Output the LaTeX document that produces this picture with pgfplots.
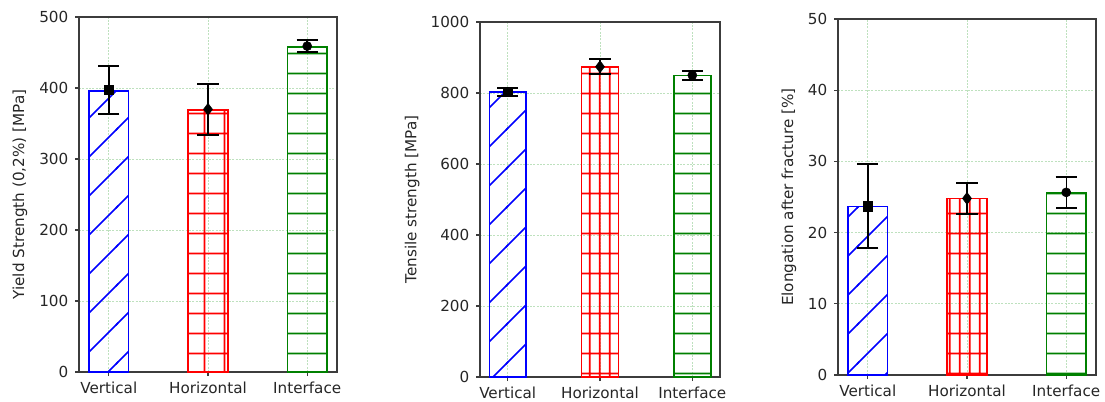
\documentclass[border=0pt]{standalone}
\usepackage{fontspec}
\setmainfont{DejaVu Sans}
\usepackage{pgfplots}
\pgfplotsset{compat=1.18}
\usetikzlibrary{patterns}

\definecolor{cblue}{RGB}{0,0,255}
\definecolor{cred}{RGB}{255,0,0}
\definecolor{cgreen}{RGB}{0,128,0}
\definecolor{gridc}{RGB}{190,225,190}
\definecolor{axc}{RGB}{60,60,60}

% hatch patterns
\pgfdeclarepatternformonly{mydiag}{\pgfpoint{-1pt}{-1pt}}{\pgfpoint{30.25pt}{30.25pt}}{\pgfpoint{29.25pt}{29.25pt}}{
  \pgfsetlinewidth{1.3pt}
  \pgfpathmoveto{\pgfpoint{-1pt}{-1pt}}
  \pgfpathlineto{\pgfpoint{30.25pt}{30.25pt}}
  \pgfusepath{stroke}}
\pgfdeclarepatternformonly{myhlines}{\pgfpoint{0pt}{0pt}}{\pgfpoint{10pt}{14.625pt}}{\pgfpoint{10pt}{14.625pt}}{
  \pgfsetlinewidth{1.3pt}
  \pgfpathmoveto{\pgfpoint{-1pt}{7.3125pt}}
  \pgfpathlineto{\pgfpoint{11pt}{7.3125pt}}
  \pgfusepath{stroke}}
\pgfdeclarepatternformonly{mygridA}{\pgfpoint{0pt}{0pt}}{\pgfpoint{14.625pt}{14.625pt}}{\pgfpoint{14.625pt}{14.625pt}}{
  \pgfsetlinewidth{1.3pt}
  \pgfpathmoveto{\pgfpoint{-1pt}{7.3125pt}}
  \pgfpathlineto{\pgfpoint{15.625pt}{7.3125pt}}
  \pgfpathmoveto{\pgfpoint{7.3125pt}{-1pt}}
  \pgfpathlineto{\pgfpoint{7.3125pt}{15.625pt}}
  \pgfusepath{stroke}}
\pgfdeclarepatternformonly{mygridB}{\pgfpoint{0pt}{0pt}}{\pgfpoint{7.3125pt}{14.625pt}}{\pgfpoint{7.3125pt}{14.625pt}}{
  \pgfsetlinewidth{1.3pt}
  \pgfpathmoveto{\pgfpoint{-1pt}{7.3125pt}}
  \pgfpathlineto{\pgfpoint{8.3125pt}{7.3125pt}}
  \pgfpathmoveto{\pgfpoint{3.65625pt}{-1pt}}
  \pgfpathlineto{\pgfpoint{3.65625pt}{15.625pt}}
  \pgfusepath{stroke}}

\newcommand{\fs}{\fontsize{11.4}{13}\selectfont}

\pgfplotsset{
  myax/.style={
    scale only axis,
    axis line style={axc, line width=0.9pt},
    tick align=outside,
    tick pos=left,
    major tick length=3pt,
    tick style={axc, line width=0.8pt},
    grid=major,
    major grid style={gridc, dash pattern=on 1.5pt off 1pt, line width=0.5pt},
    xmin=-0.3, xmax=2.3,
    xtick={0,1,2},
    xticklabels={Vertical,Horizontal,Interface},
    ymin=0,
    tick label style={font=\fs, text=black!85},
    yticklabel style={xshift=-1.5pt},
    xticklabel style={yshift=-1pt},
    label style={font=\fs, text=black!85},
    /pgf/number format/assume math mode=true,
    /pgf/number format/1000 sep={},
    ylabel style={anchor=center},
  },
  mybar/.style={ybar, bar width=0.4, bar shift=0pt, line width=1.1pt},
  myerr/.style={only marks, black, mark size=3.4pt,
    error bars/y dir=both, error bars/y explicit,
    error bars/error bar style={line width=1.1pt, black},
    error bars/error mark options={rotate=90, line width=1.5pt, mark size=7.9pt, black}},
}

\begin{document}
\begin{tikzpicture}
\useasboundingbox (0,0) rectangle (828.75pt,-301.5pt);

% Panel 1
\begin{axis}[myax, at={(59.25pt,-279pt)}, anchor=south west,
  width=193.5pt, height=266.25pt,
  ymax=500, ytick={0,100,...,500},
  ylabel={Yield Strength (0,2\%) [MPa]},
  ylabel style={at={(axis description cs:-0.229,0.5)}}]
\addplot[mybar, draw=cblue, pattern=mydiag, pattern color=cblue] coordinates {(0,396)};
\addplot[mybar, draw=cred, pattern=mygridA, pattern color=cred] coordinates {(1,369)};
\addplot[mybar, draw=cgreen, pattern=myhlines, pattern color=cgreen] coordinates {(2,458)};
\addplot[myerr, mark=square*] coordinates {(0,397) +- (0,34)};
\addplot[myerr, mark=diamond*, mark size=4.5pt] coordinates {(1,370) +- (0,36)};
\addplot[myerr, mark=*] coordinates {(2,459) +- (0,8.5)};
\end{axis}

% Panel 2
\begin{axis}[myax, at={(360pt,-282.75pt)}, anchor=south west,
  width=180pt, height=266.25pt,
  ymax=1000, ytick={0,200,...,1000},
  ylabel={Tensile strength [MPa]},
  ylabel style={at={(axis description cs:-0.283,0.5)}}]
\addplot[mybar, draw=cblue, pattern=mydiag, pattern color=cblue] coordinates {(0,803)};
\addplot[mybar, draw=cred, pattern=mygridB, pattern color=cred] coordinates {(1,873)};
\addplot[mybar, draw=cgreen, pattern=myhlines, pattern color=cgreen] coordinates {(2,850)};
\addplot[myerr, mark=square*] coordinates {(0,803) +- (0,12)};
\addplot[myerr, mark=diamond*, mark size=4.5pt] coordinates {(1,874) +- (0,21)};
\addplot[myerr, mark=*] coordinates {(2,850) +- (0,12)};
\end{axis}

% Panel 3
\begin{axis}[myax, at={(628.5pt,-281.25pt)}, anchor=south west,
  width=193.5pt, height=267pt,
  ymax=50, ytick={0,10,...,50},
  ylabel={Elongation after fracture [\%]},
  ylabel style={at={(axis description cs:-0.19,0.5)}}]
\addplot[mybar, draw=cblue, pattern=mydiag, pattern color=cblue] coordinates {(0,23.7)};
\addplot[mybar, draw=cred, pattern=mygridB, pattern color=cred] coordinates {(1,24.8)};
\addplot[mybar, draw=cgreen, pattern=myhlines, pattern color=cgreen] coordinates {(2,25.6)};
\addplot[myerr, mark=square*] coordinates {(0,23.7) +- (0,5.9)};
\addplot[myerr, mark=diamond*, mark size=4.5pt] coordinates {(1,24.8) +- (0,2.2)};
\addplot[myerr, mark=*] coordinates {(2,25.65) +- (0,2.15)};
\end{axis}
\end{tikzpicture}
\end{document}
